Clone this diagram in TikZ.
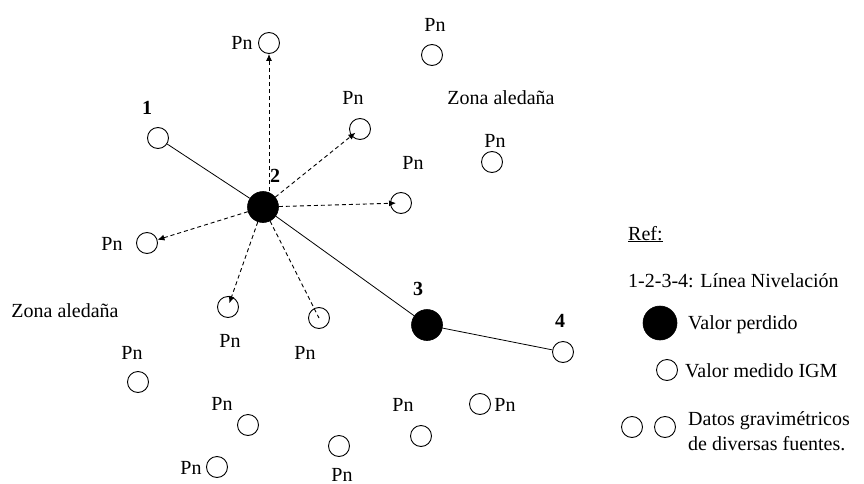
\documentclass[tikz,border=0pt]{standalone}
\usepackage{fontspec}
\setmainfont{Liberation Serif}
\usetikzlibrary{arrows.meta}
\begin{document}
\begin{tikzpicture}[x=1pt,y=-1pt,
  lbl/.style={font=\fontsize{20}{22}\selectfont, inner sep=0pt, anchor=base},
  lblw/.style={lbl, anchor=base west},
  num/.style={lbl, font=\fontsize{20}{22}\selectfont\bfseries},
  pt/.style={circle, draw, line width=0.9pt, minimum size=21pt, inner sep=0pt},
  lost/.style={circle, fill=black, draw, line width=0.6pt, minimum size=31pt, inner sep=0pt},
  sl/.style={line width=0.8pt},
  dl/.style={line width=0.9pt, dash pattern=on 4pt off 3pt},
  ar/.style={dl, -{Latex[length=7pt,width=6pt]}}]
\useasboundingbox (0,0) rectangle (864,484);
% points
\node[pt] (pTop) at (269,43) {};
\node[pt] (pTR) at (432,55) {};
\node[pt] (pNE) at (360,129) {};
\node[pt] (pR) at (492,162) {};
\node[pt] (pE) at (401,203) {};
\node[pt] (n1) at (158,138) {};
\node[lost] (n2) at (263,207) {};
\node[pt] (pW) at (147,243) {};
\node[pt] (pS1) at (228,307) {};
\node[pt] (pS2) at (319,318) {};
\node[lost] (n3) at (427,325) {};
\node[pt] (n4) at (563,352) {};
\node[pt] (pa) at (138,382) {};
\node[pt] (pb) at (248,425) {};
\node[pt] (pc) at (217,467) {};
\node[pt] (pd) at (339,446) {};
\node[pt] (pe) at (421,436) {};
\node[pt] (pf) at (480,404) {};
% labels
\node[lbl] (lTop) at (242,50) {Pn};
\node[lbl] (lTR) at (435,32) {Pn};
\node[lbl] (zR) at (501,105) {Zona aledaña};
\node[lbl] (lNE) at (353,105) {Pn};
\node[lbl] (lR) at (495,147) {Pn};
\node[lbl] (lE) at (413,169) {Pn};
\node[num] (l1) at (147,114) {1};
\node[num] (l2) at (275,182) {2};
\node[lbl] (lW) at (112,250) {Pn};
\node[lbl] (zL) at (65,317) {Zona aledaña};
\node[lbl] (lS1) at (230,347) {Pn};
\node[lbl] (lS2) at (305,359) {Pn};
\node[num] (l3) at (418,295) {3};
\node[num] (l4) at (560,327) {4};
\node[lbl] (la) at (132,359) {Pn};
\node[lbl] (lb) at (222,410) {Pn};
\node[lbl] (lc) at (191,474) {Pn};
\node[lbl] (ld) at (342,481) {Pn};
\node[lbl] (le) at (403,411) {Pn};
\node[lbl] (lf) at (505,411) {Pn};
% leveling line
\draw[sl] (n1) -- (n2);
\draw[sl] (n2) -- (n3);
\draw[sl] (n3) -- (n4);
% dashed arrows
\draw[ar] (pTop |- n2.north) -- (pTop);
\draw[ar, shorten >=-5pt] (n2) -- (pNE);
\draw[ar, shorten >=-6pt] (n2) -- (pE);
\draw[ar] (n2) -- (pW);
\draw[ar, shorten >=-7pt] (n2) -- (pS1);
\draw[dl] (n2) -- (pS2.center);
% legend
\node[lblw] (ref) at (628,240) {\underline{Ref:}};
\node[lblw] (lin) at (628,287) {1-2-3-4: Línea Nivelación};
\node[lost, minimum size=34pt] (kLost) at (660,323) {};
\node[lblw] (tLost) at (688,329) {Valor perdido};
\node[pt] (kIGM) at (667,370) {};
\node[lblw] (tIGM) at (685,377) {Valor medido IGM};
\node[pt] (kA) at (632,427) {};
\node[pt] (kB) at (665,427) {};
\node[lblw] (tD1) at (688,425) {Datos gravimétricos};
\node[lblw] (tD2) at (688,450) {de diversas fuentes.};
\end{tikzpicture}
\end{document}
